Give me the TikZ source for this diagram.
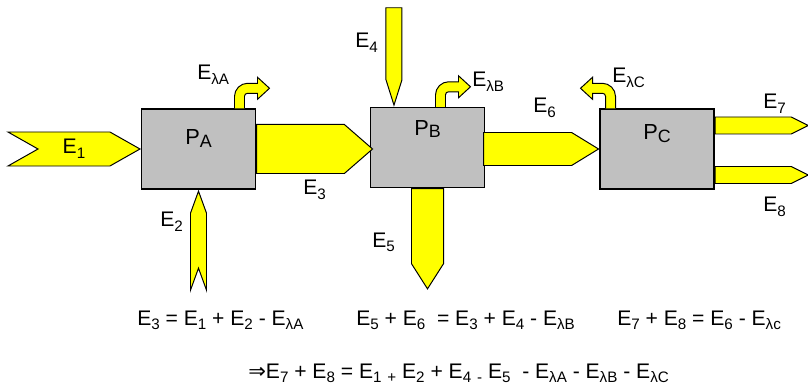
\documentclass[tikz,border=0pt]{standalone}
\usepackage{fontspec}
\setmainfont{Liberation Sans}
\newfontfamily\arrowfont{DejaVu Sans}
\usetikzlibrary{shapes.symbols,calc}
\definecolor{procgray}{HTML}{C0C0C0}
\definecolor{flowyellow}{HTML}{FFFF00}
\newcommand\sub[1]{\raisebox{-0.22em}{\scalebox{0.72}{#1}}}
\newcommand\psub[1]{\raisebox{-0.1em}{\scalebox{0.82}{#1}}}

\begin{document}
\begin{tikzpicture}[x=0.025cm, y=-0.025cm,
  proc/.style={rectangle, draw=black, line width=1pt, fill=procgray, minimum width=2.84cm, minimum height=2cm, inner sep=0pt, font=\fontsize{15.5}{17}\selectfont},
  flow/.style={signal, draw=black, line width=0.7pt, fill=flowyellow, inner sep=0pt, font=\fontsize{15}{17}\selectfont},
  flowline/.style={draw=black, line width=0.7pt, fill=flowyellow},
  lbl/.style={anchor=base west, inner sep=0pt, font=\fontsize{15}{17}\selectfont},
  eqn/.style={anchor=base west, inner sep=0pt, font=\fontsize{15}{17}\selectfont},
  pics/loss/.style={code={
    \path[flowline] (-5,0) -- (-5,-12) .. controls (-5,-19) and (1,-25) .. (8,-25)
      -- (18,-25) -- (18,-31) -- (30,-20) -- (18,-9) -- (18,-15) -- (8,-15)
      .. controls (6.3,-15) and (5,-13.7) .. (5,-12) -- (5,0);
  }}
]
  \useasboundingbox (0,0) rectangle (808,386);

  \node[proc] (pa) at (198.5,149) {\raisebox{0.1cm}[0pt][0pt]{P\psub{A}}};
  \node[proc] (pb) at (427.5,147.5) {\raisebox{0.31cm}[0pt][0pt]{P\psub{B}}};
  \node[proc] (pc) at (657,149) {\raisebox{0.225cm}[0pt][0pt]{P\psub{C}}};

  \node[flow, signal to=east, signal from=west, signal pointer angle=59, minimum width=3.3cm, minimum height=0.85cm, anchor=east] (e1) at (pa.west) {E\sub{1}};
  \node[flow, signal to=north, signal from=south, signal pointer angle=40, minimum width=0.4cm, minimum height=1.375cm, anchor=north] (e2) at (pa.south) {};
  \node[flow, signal to=east, signal pointer angle=82, minimum width=2.9cm, minimum height=1.225cm, anchor=west] (e3) at (pa.east) {};
  \node[flow, signal to=south, signal pointer angle=35, minimum width=0.4cm, minimum height=1.8cm, anchor=south] (e4) at ($(pb.north west)+(24,0)$) {};
  \node[flow, signal to=south, signal pointer angle=65, minimum width=0.8cm, minimum height=1.875cm, anchor=north] (e5) at (pb.south) {};
  \node[flow, signal to=east, signal pointer angle=63, minimum width=2.875cm, minimum height=0.825cm, anchor=east] (e6) at (pc.west) {};
  \node[flow, signal to=east, signal pointer angle=53, minimum width=2.33cm, minimum height=0.425cm, anchor=west] (e7) at ($(pc.east)+(0,-23.5)$) {};
  \node[flow, signal to=east, signal pointer angle=53, minimum width=2.33cm, minimum height=0.425cm, anchor=west] (e8) at ($(pc.east)+(0,26)$) {};

  \pic at ($(pa.north)+(41,0)$) {loss};
  \pic at ($(pb.north)+(13,0)$) {loss};
  \pic[xscale=-1] at ($(pc.north)+(-46.5,0)$) {loss};

  \node[lbl] (l2) at (160,227) {E\sub{2}};
  \node[lbl] (l3) at (303,195) {E\sub{3}};
  \node[lbl] (l4) at (355,48) {E\sub{4}};
  \node[lbl] (l5) at (372,247) {E\sub{5}};
  \node[lbl] (l6) at (533,113) {E\sub{6}};
  \node[lbl] (l7) at (763,109) {E\sub{7}};
  \node[lbl] (l8) at (763,212) {E\sub{8}};
  \node[lbl] (la) at (197,80) {E\sub{λA}};
  \node[lbl] (lb) at (472,87) {E\sub{λB}};
  \node[lbl] (lc) at (612,83) {E\sub{λC}};

  \node[eqn] (q1) at (137,325) {E\sub{3} = E\sub{1} + E\sub{2} - E\sub{λA}};
  \node[eqn] (q2) at (356,325) {E\sub{5} + E\sub{6} \ = E\sub{3} + E\sub{4} - E\sub{λB}};
  \node[eqn] (q3) at (617,325) {E\sub{7} + E\sub{8} = E\sub{6} - E\sub{λc}};
  \node[eqn] (q4) at (248,378) {{\arrowfont ⇒}E\sub{7} + E\sub{8} = E\sub{1} \sub{+} E\sub{2} + E\sub{4} \sub{-} E\sub{5} \ - E\sub{λA} - E\sub{λB} - E\sub{λC}};
\end{tikzpicture}
\end{document}
